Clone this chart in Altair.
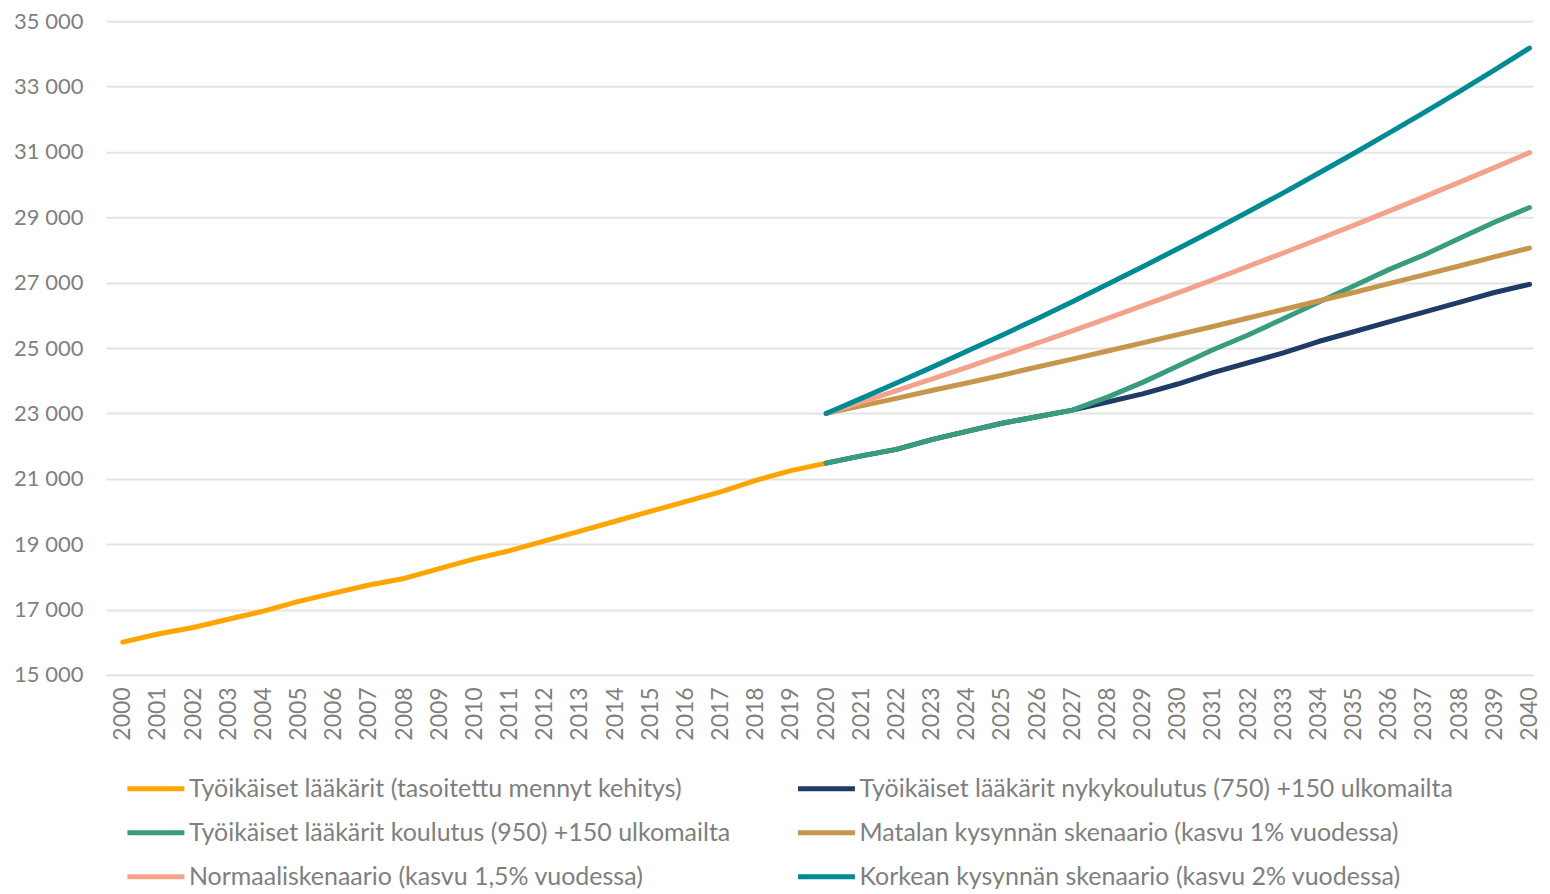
import altair as alt
import pandas as pd

years = list(range(2000, 2041))

s_names = [
    "Työikäiset lääkärit (tasoitettu mennyt kehitys)",
    "Työikäiset lääkärit nykykoulutus  (750) +150 ulkomailta",
    "Työikäiset lääkärit koulutus (950) +150 ulkomailta",
    "Matalan kysynnän skenaario (kasvu 1% vuodessa)",
    "Normaaliskenaario (kasvu 1,5% vuodessa)",
    "Korkean kysynnän skenaario (kasvu 2% vuodessa)",
]
s_colors = ["#FFA500", "#1F3B66", "#3A9C7F", "#C8954C", "#F4A28C", "#008A93"]

# legend is filled column by column: left column first, then right column
legend_order = [0, 2, 4, 1, 3, 5]
dom = [s_names[i] for i in legend_order]
rng = [s_colors[i] for i in legend_order]

past = [16000, 16250, 16450, 16700, 16950, 17250, 17500, 17750, 17950, 18250,
        18550, 18800, 19100, 19400, 19700, 20000, 20300, 20600, 20950, 21250, 21480]
current_edu = [21480, 21700, 21900, 22200, 22450, 22700, 22900, 23100, 23350, 23600,
               23900, 24250, 24550, 24850, 25200, 25500, 25800, 26100, 26400, 26700, 26950]
more_edu = [21480, 21700, 21900, 22200, 22450, 22700, 22900, 23100, 23500, 23950,
            24450, 24950, 25400, 25900, 26400, 26900, 27400, 27850, 28350, 28850, 29300]
low_demand = [23000, 23230, 23460, 23700, 23930, 24170, 24420, 24660, 24910, 25160,
              25410, 25660, 25920, 26180, 26440, 26700, 26970, 27240, 27510, 27790, 28060]
normal = [23000, 23345, 23695, 24050, 24410, 24780, 25150, 25525, 25910, 26300,
          26690, 27090, 27500, 27910, 28330, 28755, 29190, 29625, 30070, 30520, 30980]
high_demand = [23000, 23460, 23930, 24410, 24900, 25395, 25900, 26420, 26950, 27490,
               28040, 28600, 29170, 29750, 30350, 30955, 31575, 32205, 32850, 33505, 34180]

past_years = years[:21]
future_years = years[20:]

rows = []
for name, ys, vals in [
    (s_names[0], past_years, past),
    (s_names[1], future_years, current_edu),
    (s_names[2], future_years, more_edu),
    (s_names[3], future_years, low_demand),
    (s_names[4], future_years, normal),
    (s_names[5], future_years, high_demand),
]:
    for y, v in zip(ys, vals):
        rows.append({"vuosi": y, "arvo": v, "sarja": name})
df = pd.DataFrame(rows)

y_ticks = list(range(15000, 35001, 2000))

chart = alt.Chart(df).mark_line(strokeWidth=5, strokeCap="round", strokeJoin="round").encode(
    x=alt.X("vuosi:Q",
            scale=alt.Scale(domain=[1999.52, 2040.1], nice=False, zero=False),
            axis=alt.Axis(values=years, format="d", labelAngle=270, title=None,
                          grid=False, domain=False, ticks=False, labelPadding=12,
                          labelFontSize=23, labelColor="#7f7f7f", labelFont="Lato",
                          labelFlush=False, labelOverlap=False)),
    y=alt.Y("arvo:Q",
            scale=alt.Scale(domain=[15000, 35000], nice=False, zero=False),
            axis=alt.Axis(values=y_ticks, title=None, domain=False, ticks=False,
                          labelExpr="replace(format(datum.value, ',d'), ',', ' ')",
                          labelPadding=23, labelFontSize=22, labelColor="#7f7f7f",
                          labelFont="Lato", gridColor="#e4e4e4", gridWidth=2)),
    color=alt.Color("sarja:N",
                    scale=alt.Scale(domain=dom, range=rng),
                    legend=alt.Legend(title=None, orient="none", legendX=19, legendY=737,
                                      columns=2, symbolType="stroke", symbolSize=3249,
                                      symbolStrokeWidth=5, labelFontSize=25,
                                      labelFont="Lato", labelColor="#7f7f7f",
                                      labelLimit=800, columnPadding=56, rowPadding=-7,
                                      labelOffset=2, direction="vertical")),
).properties(
    width=1428, height=654, background="white",
    padding={"left": 5, "top": 2, "right": 0, "bottom": 0},
).configure_view(strokeWidth=0, stroke="transparent")

chart.save("out.html", embed_options={"renderer": "svg", "actions": False})
